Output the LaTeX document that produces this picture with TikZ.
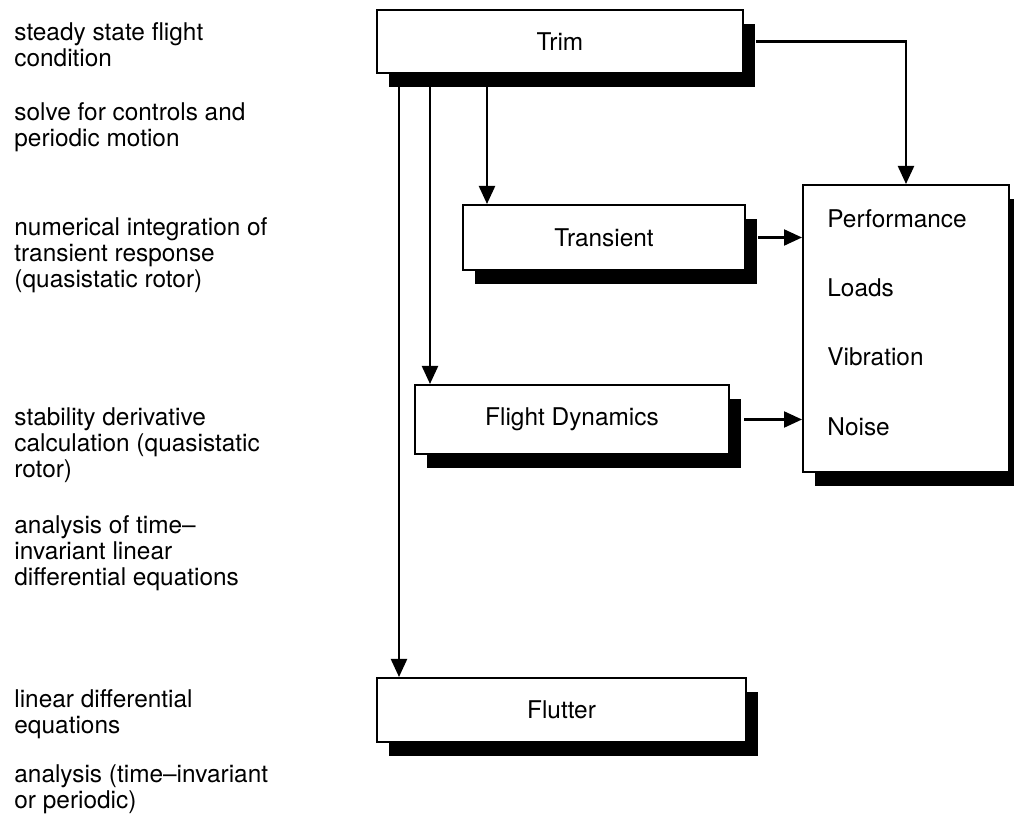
\documentclass[tikz,border=0pt]{standalone}
\usepackage{fontspec}
\setmainfont{TeX Gyre Heros}
\usetikzlibrary{arrows.meta,shadows}

\tikzset{
  txt/.style={font=\fontsize{12.2}{13}\selectfont},
  block/.style={txt, draw, line width=1pt, fill=white,
    drop shadow={shadow xshift=6pt, shadow yshift=-7pt, fill=black, opacity=1}},
  note/.style={txt, anchor=west, align=left, inner sep=0pt},
  item/.style={txt, anchor=west, inner sep=0pt},
  flow/.style={line width=1.1pt, -{Triangle[length=9pt,width=8pt]}}
}

\begin{document}
\begin{tikzpicture}[x=0.5pt, y=-0.5pt]
  \useasboundingbox (0,0) rectangle (1014,823);

  % main blocks
  \node[block, minimum width=183pt, minimum height=31.5pt] (trim) at (560,41.5) {Trim};
  \node[block, minimum width=141pt, minimum height=32.5pt] (transient) at (604,237.5) {Transient};
  \node[block, minimum width=157pt, minimum height=34.5pt] (flightdyn) at (572,419.5) {Flight Dynamics};
  \node[block, minimum width=184.5pt, minimum height=32pt] (flutter) at (561.5,710) {Flutter};
  \node[block, minimum width=103pt, minimum height=143.5pt] (out) at (906,328.5) {};

  % results
  \node[item] (perf) at (827,219) {Performance};
  \node[item] (loads) at (827,288) {Loads};
  \node[item] (vib) at (827,357) {Vibration};
  \node[item] (noise) at (827,427) {Noise};

  % descriptions down the left side
  \node[note] (n-trim) at (14,45) {steady state flight\\condition};
  \node[note] (n-solve) at (14,127) {solve for controls and\\periodic motion};
  \node[note] (n-trans) at (14,255) {numerical integration of\\transient response\\(quasistatic rotor)};
  \node[note] (n-stab) at (14,445) {stability derivative\\calculation (quasistatic\\rotor)};
  \node[note] (n-lin) at (14,553) {analysis of time--\\invariant linear\\differential equations};
  \node[note] (n-flut) at (14,714.5) {linear differential\\equations};
  \node[note] (n-per) at (14,789) {analysis (time--invariant\\or periodic)};

  % entry points on the lower blocks
  \coordinate (in-flut) at ([xshift=11.5pt]flutter.north west);
  \coordinate (in-fd) at ([xshift=8pt]flightdyn.north west);
  \coordinate (in-tr) at ([xshift=12.5pt]transient.north west);

  \draw[flow] (trim.south -| in-flut) -- (in-flut);
  \draw[flow] (trim.south -| in-fd) -- (in-fd);
  \draw[flow] (trim.south -| in-tr) -- (in-tr);
  \draw[flow] ([xshift=6pt]trim.east) -| (out.north);
  \draw[flow] ([xshift=6pt]transient.east) -- (transient.east -| out.west);
  \draw[flow] ([xshift=7pt]flightdyn.east) -- (flightdyn.east -| out.west);
\end{tikzpicture}
\end{document}
